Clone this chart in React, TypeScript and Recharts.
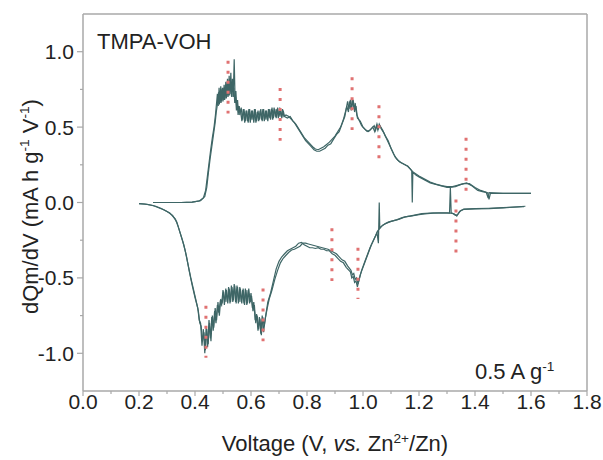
import { LineChart, Line, XAxis, YAxis, ReferenceLine } from "recharts";

// dQm/dV curves, [voltage, value] pairs
const charge1 = [
  [0.25, 0.0], [0.3, 0.0], [0.35, 0.0], [0.39, 0.003], [0.415, 0.01], [0.43, 0.03],
  [0.438, 0.08], [0.444, 0.17], [0.45, 0.26], [0.456, 0.35], [0.462, 0.43], [0.468, 0.5],
  [0.473, 0.58], [0.477, 0.66], [0.48, 0.72], [0.483, 0.64], [0.486, 0.76], [0.489, 0.66],
  [0.492, 0.77], [0.495, 0.67], [0.498, 0.76], [0.501, 0.68], [0.504, 0.78], [0.507, 0.69],
  [0.51, 0.8], [0.513, 0.7], [0.516, 0.82], [0.519, 0.71], [0.522, 0.84], [0.525, 0.72],
  [0.528, 0.86], [0.531, 0.7], [0.534, 0.82], [0.537, 0.74], [0.54, 0.95], [0.543, 0.7],
  [0.546, 0.74], [0.549, 0.63], [0.552, 0.68], [0.555, 0.6], [0.558, 0.64],
  [0.56, 0.58], [0.565, 0.63], [0.57, 0.55], [0.575, 0.62], [0.58, 0.54], [0.585, 0.61],
  [0.59, 0.53], [0.595, 0.62], [0.6, 0.55], [0.605, 0.61], [0.61, 0.53], [0.615, 0.62],
  [0.62, 0.54], [0.625, 0.61], [0.63, 0.55], [0.635, 0.62], [0.64, 0.54], [0.645, 0.62],
  [0.65, 0.55], [0.655, 0.61], [0.66, 0.54], [0.665, 0.62], [0.67, 0.55], [0.675, 0.63],
  [0.68, 0.56], [0.685, 0.62], [0.69, 0.56], [0.695, 0.63], [0.7, 0.57], [0.705, 0.62],
  [0.71, 0.56], [0.715, 0.61], [0.72, 0.57], [0.73, 0.56], [0.74, 0.57], [0.75, 0.54],
  [0.76, 0.52], [0.77, 0.49], [0.78, 0.46], [0.79, 0.43], [0.8, 0.41], [0.81, 0.39],
  [0.82, 0.37], [0.83, 0.355], [0.84, 0.35], [0.85, 0.36], [0.86, 0.37], [0.87, 0.385],
  [0.88, 0.4], [0.89, 0.42], [0.9, 0.44], [0.91, 0.47], [0.92, 0.5], [0.93, 0.55],
  [0.94, 0.62], [0.945, 0.67], [0.95, 0.62], [0.955, 0.68], [0.96, 0.63], [0.965, 0.68],
  [0.97, 0.6], [0.975, 0.64], [0.98, 0.56], [0.99, 0.54], [1.0, 0.5], [1.01, 0.48],
  [1.02, 0.47], [1.03, 0.49], [1.04, 0.51], [1.045, 0.48], [1.05, 0.52], [1.055, 0.49],
  [1.06, 0.51], [1.07, 0.48], [1.08, 0.44], [1.09, 0.41], [1.1, 0.36], [1.11, 0.32],
  [1.12, 0.29], [1.13, 0.27], [1.14, 0.26], [1.15, 0.25], [1.16, 0.24], [1.17, 0.22],
  [1.174, 0.21], [1.176, 0.0], [1.178, 0.2], [1.19, 0.18], [1.2, 0.17], [1.22, 0.15],
  [1.24, 0.13], [1.26, 0.12], [1.28, 0.11], [1.3, 0.1], [1.31, 0.1], [1.33, 0.105],
  [1.35, 0.12], [1.37, 0.13], [1.39, 0.11], [1.41, 0.08], [1.43, 0.07], [1.445, 0.065],
  [1.45, 0.02], [1.455, 0.06], [1.48, 0.06], [1.52, 0.06], [1.56, 0.06], [1.6, 0.06],
];

const charge2 = [
  [0.25, 0.0], [0.3, 0.0], [0.35, 0.0], [0.39, 0.002], [0.42, 0.012], [0.435, 0.04],
  [0.442, 0.1], [0.448, 0.2], [0.454, 0.29], [0.46, 0.37], [0.466, 0.45], [0.472, 0.53],
  [0.476, 0.6], [0.48, 0.65], [0.484, 0.73], [0.487, 0.65], [0.49, 0.74], [0.493, 0.66],
  [0.496, 0.75], [0.5, 0.67], [0.503, 0.76], [0.506, 0.68], [0.509, 0.78], [0.512, 0.69],
  [0.515, 0.79], [0.518, 0.7], [0.521, 0.8], [0.524, 0.71], [0.527, 0.82], [0.53, 0.73],
  [0.533, 0.78], [0.536, 0.7], [0.539, 0.76], [0.542, 0.66], [0.545, 0.7], [0.548, 0.61],
  [0.551, 0.66], [0.554, 0.58], [0.557, 0.63],
  [0.5625, 0.61], [0.5675, 0.54], [0.5725, 0.62], [0.5775, 0.53], [0.5825, 0.61], [0.5875, 0.54],
  [0.5925, 0.62], [0.5975, 0.53], [0.6025, 0.61], [0.6075, 0.55], [0.6125, 0.62], [0.6175, 0.53],
  [0.6225, 0.6], [0.6275, 0.54], [0.6325, 0.61], [0.6375, 0.55], [0.6425, 0.62], [0.6475, 0.54],
  [0.6525, 0.61], [0.6575, 0.55], [0.6625, 0.62], [0.6675, 0.56], [0.6725, 0.62], [0.6775, 0.55],
  [0.6825, 0.63], [0.6875, 0.57], [0.6925, 0.62], [0.6975, 0.56], [0.7025, 0.63], [0.7075, 0.57],
  [0.7125, 0.62], [0.7175, 0.57], [0.725, 0.58], [0.735, 0.57], [0.745, 0.55], [0.755, 0.53],
  [0.765, 0.5], [0.775, 0.47], [0.785, 0.44], [0.795, 0.41], [0.805, 0.39], [0.815, 0.37],
  [0.825, 0.35], [0.835, 0.34], [0.845, 0.34], [0.855, 0.35], [0.865, 0.36], [0.875, 0.38],
  [0.885, 0.39], [0.895, 0.42], [0.905, 0.45], [0.915, 0.47], [0.925, 0.52], [0.935, 0.57],
  [0.942, 0.64], [0.948, 0.6], [0.952, 0.67], [0.958, 0.61], [0.962, 0.69], [0.968, 0.62],
  [0.972, 0.66], [0.978, 0.58], [0.985, 0.55], [0.995, 0.51], [1.005, 0.49], [1.015, 0.47],
  [1.025, 0.48], [1.035, 0.5], [1.042, 0.47], [1.048, 0.51], [1.053, 0.48], [1.058, 0.52],
  [1.065, 0.49], [1.075, 0.46], [1.085, 0.42], [1.095, 0.38], [1.105, 0.34], [1.115, 0.3],
  [1.125, 0.28], [1.135, 0.265], [1.145, 0.255], [1.16, 0.24], [1.18, 0.2], [1.2, 0.175],
  [1.22, 0.155], [1.24, 0.135], [1.26, 0.122], [1.28, 0.112], [1.3, 0.105], [1.32, 0.105],
  [1.34, 0.115], [1.36, 0.125], [1.38, 0.125], [1.4, 0.1], [1.42, 0.08], [1.44, 0.068],
  [1.447, 0.03], [1.45, 0.065], [1.5, 0.06], [1.55, 0.06], [1.6, 0.06],
];

const discharge1 = [
  [1.575, -0.027], [1.55, -0.03], [1.5, -0.035], [1.45, -0.04], [1.4, -0.042], [1.36, -0.045],
  [1.345, -0.06], [1.335, -0.09], [1.325, -0.075], [1.315, -0.07], [1.312, 0.1], [1.309, -0.07],
  [1.28, -0.07], [1.25, -0.07], [1.22, -0.075], [1.2, -0.08], [1.17, -0.09], [1.15, -0.095],
  [1.13, -0.11], [1.11, -0.12], [1.09, -0.13], [1.07, -0.15], [1.06, -0.17], [1.058, 0.0],
  [1.055, -0.27], [1.05, -0.2], [1.04, -0.24], [1.03, -0.28], [1.02, -0.33], [1.01, -0.38],
  [1.0, -0.43], [0.99, -0.48], [0.985, -0.52], [0.98, -0.56], [0.975, -0.52], [0.97, -0.53],
  [0.965, -0.49], [0.96, -0.5], [0.955, -0.46], [0.95, -0.45], [0.94, -0.43], [0.93, -0.4],
  [0.92, -0.39], [0.91, -0.37], [0.9, -0.35], [0.89, -0.34], [0.88, -0.32], [0.87, -0.32],
  [0.86, -0.31], [0.85, -0.31], [0.84, -0.3], [0.83, -0.305], [0.82, -0.3], [0.81, -0.3],
  [0.8, -0.29], [0.79, -0.28], [0.78, -0.265], [0.77, -0.27], [0.76, -0.29], [0.75, -0.3],
  [0.74, -0.31], [0.73, -0.32], [0.72, -0.34], [0.71, -0.36], [0.7, -0.39], [0.69, -0.44],
  [0.68, -0.52], [0.67, -0.6], [0.66, -0.66], [0.655, -0.72], [0.65, -0.78], [0.645, -0.86],
  [0.64, -0.75], [0.635, -0.87], [0.63, -0.76], [0.625, -0.85], [0.62, -0.74], [0.615, -0.78],
  [0.61, -0.66], [0.605, -0.7], [0.6, -0.6], [0.595, -0.67], [0.59, -0.58], [0.585, -0.68],
  [0.58, -0.57], [0.575, -0.67], [0.57, -0.58], [0.565, -0.66], [0.56, -0.56], [0.555, -0.67],
  [0.55, -0.55], [0.545, -0.66], [0.54, -0.54], [0.535, -0.66], [0.53, -0.55], [0.525, -0.67],
  [0.52, -0.56], [0.515, -0.66], [0.51, -0.57], [0.505, -0.68], [0.5, -0.58], [0.495, -0.68],
  [0.49, -0.66], [0.485, -0.73], [0.48, -0.68], [0.475, -0.8], [0.47, -0.72], [0.465, -0.85],
  [0.46, -0.76], [0.455, -0.9], [0.45, -0.78], [0.445, -0.96], [0.44, -0.82], [0.435, -1.0],
  [0.43, -0.84], [0.425, -0.95], [0.42, -0.8], [0.415, -0.78], [0.41, -0.7], [0.4, -0.63],
  [0.39, -0.55], [0.38, -0.46], [0.37, -0.36], [0.36, -0.28], [0.35, -0.22], [0.34, -0.16],
  [0.33, -0.11], [0.31, -0.07], [0.29, -0.05], [0.27, -0.035], [0.25, -0.02], [0.22, -0.01],
  [0.2, -0.007],
];

const discharge2 = [
  [1.58, -0.025], [1.55, -0.029], [1.5, -0.034], [1.45, -0.038], [1.4, -0.041], [1.36, -0.044],
  [1.348, -0.055], [1.338, -0.08], [1.33, -0.085], [1.32, -0.072], [1.3, -0.068], [1.27, -0.068],
  [1.24, -0.07], [1.21, -0.074], [1.18, -0.085], [1.16, -0.092], [1.14, -0.1], [1.12, -0.115],
  [1.1, -0.125], [1.08, -0.14], [1.065, -0.16], [1.052, -0.19], [1.045, -0.22], [1.035, -0.26],
  [1.025, -0.3], [1.015, -0.35], [1.005, -0.4], [0.995, -0.45], [0.988, -0.5], [0.982, -0.54],
  [0.977, -0.5], [0.972, -0.51], [0.967, -0.47], [0.962, -0.48], [0.957, -0.45], [0.945, -0.42],
  [0.935, -0.39], [0.925, -0.38], [0.915, -0.36], [0.905, -0.34], [0.895, -0.33], [0.885, -0.32],
  [0.875, -0.31], [0.865, -0.305], [0.855, -0.3], [0.845, -0.295], [0.835, -0.29], [0.825, -0.285],
  [0.815, -0.28], [0.805, -0.275], [0.795, -0.27], [0.785, -0.27], [0.775, -0.29], [0.765, -0.3],
  [0.755, -0.31], [0.745, -0.315], [0.735, -0.33], [0.725, -0.35], [0.715, -0.37], [0.705, -0.4],
  [0.695, -0.45], [0.685, -0.51], [0.675, -0.58], [0.665, -0.64], [0.658, -0.7], [0.652, -0.76],
  [0.647, -0.82], [0.642, -0.76], [0.637, -0.88], [0.632, -0.77], [0.627, -0.84], [0.622, -0.75],
  [0.617, -0.8], [0.612, -0.68], [0.607, -0.72], [0.602, -0.62], [0.597, -0.66], [0.592, -0.57],
  [0.587, -0.67], [0.582, -0.58], [0.577, -0.68], [0.572, -0.57], [0.567, -0.67], [0.562, -0.57],
  [0.557, -0.66], [0.552, -0.56], [0.547, -0.67], [0.542, -0.55], [0.537, -0.65], [0.532, -0.56],
  [0.527, -0.66], [0.522, -0.57], [0.517, -0.67], [0.512, -0.58], [0.507, -0.66], [0.502, -0.59],
  [0.497, -0.67], [0.492, -0.64], [0.487, -0.75], [0.482, -0.66], [0.477, -0.78], [0.472, -0.7],
  [0.467, -0.83], [0.462, -0.75], [0.457, -0.92], [0.452, -0.8], [0.447, -0.94], [0.442, -0.84],
  [0.437, -0.98], [0.432, -0.86], [0.427, -0.92], [0.422, -0.82], [0.417, -0.8], [0.412, -0.72],
  [0.405, -0.66], [0.395, -0.58], [0.385, -0.5], [0.375, -0.41], [0.365, -0.32], [0.355, -0.25],
  [0.345, -0.19], [0.335, -0.13], [0.32, -0.085], [0.3, -0.06], [0.28, -0.04], [0.26, -0.025],
  [0.23, -0.012], [0.2, -0.008],
];

// red dotted markers: [voltage, top, bottom]
const peakMarks = [
  [0.518, 0.94, 0.59], [0.704, 0.76, 0.41], [0.961, 0.83, 0.48], [1.057, 0.645, 0.29],
  [1.368, 0.43, 0.07], [1.332, 0.02, -0.35], [0.889, -0.17, -0.52], [0.982, -0.3, -0.64],
  [0.643, -0.57, -0.92], [0.439, -0.685, -1.03],
];

const xTicks = [0, 0.1, 0.2, 0.3, 0.4, 0.5, 0.6, 0.7, 0.8, 0.9, 1.0, 1.1, 1.2, 1.3, 1.4, 1.5, 1.6, 1.7, 1.8];
const yTicks = [-1.0, -0.75, -0.5, -0.25, 0, 0.25, 0.5, 0.75, 1.0];

const lineColor = "#3e6666";
const axisColor = "#a8a8a8";
const markColor = "#e07272";
const font = "'Liberation Sans', Arial, sans-serif";

const toPts = (arr: number[][]) => arr.map(([v, y]) => ({ v, y }));

const XTick = (props: any) => {
  const { x, y, payload } = props;
  const v = payload.value;
  const major = Math.round(v * 10) % 2 === 0;
  return (
    <g>
      <line x1={x} y1={y} x2={x} y2={y + (major ? 5 : 3)} stroke={axisColor} strokeWidth={1.2} />
      {major && (
        <text x={x} y={y + 18} textAnchor="middle" fontSize={21} fontFamily={font} fill="#222">
          {v.toFixed(1)}
        </text>
      )}
    </g>
  );
};

const YTick = (props: any) => {
  const { x, y, payload } = props;
  const v = payload.value;
  const major = Math.round(v * 4) % 2 === 0;
  return (
    <g>
      <line x1={x} y1={y} x2={x - (major ? 6 : 3)} y2={y} stroke={axisColor} strokeWidth={1.2} />
      {major && (
        <text x={x - 9} y={y + 7.5} textAnchor="end" fontSize={21} fontFamily={font} fill="#222">
          {v.toFixed(1)}
        </text>
      )}
    </g>
  );
};

const sup = { fontSize: "0.62em", verticalAlign: "0.6em" };
const label = { position: "absolute" as const, fontSize: 22, lineHeight: "22px", whiteSpace: "nowrap" as const };

export default function App() {
  return (
    <div style={{ position: "absolute", left: 0, top: 0, width: 603, height: 460, background: "#fff", fontFamily: font, color: "#222" }}>
      <LineChart width={603} height={460} margin={{ top: 14, right: 16, bottom: 39, left: 23 }}>
        <XAxis
          type="number"
          dataKey="v"
          domain={[0, 1.8]}
          ticks={xTicks}
          interval={0}
          tickSize={0}
          tickMargin={0}
          tickLine={false}
          tick={XTick}
          height={30}
          axisLine={{ stroke: axisColor, strokeWidth: 1.5 }}
          allowDataOverflow
        />
        <YAxis
          type="number"
          domain={[-1.25, 1.25]}
          ticks={yTicks}
          interval={0}
          tickSize={0}
          tickMargin={0}
          tickLine={false}
          tick={YTick}
          width={60}
          axisLine={{ stroke: axisColor, strokeWidth: 1.5 }}
          allowDataOverflow
        />
        <ReferenceLine y={1.25} stroke={axisColor} strokeWidth={1.5} ifOverflow="visible" />
        <ReferenceLine x={1.8} stroke={axisColor} strokeWidth={1.5} ifOverflow="visible" />
        {[charge1, charge2, discharge1, discharge2].map((s, i) => (
          <Line
            key={i}
            data={toPts(s)}
            dataKey="y"
            type="linear"
            stroke={lineColor}
            strokeWidth={1.2}
            dot={false}
            activeDot={false}
            isAnimationActive={false}
          />
        ))}
        {peakMarks.map(([v, a, b], i) => (
          <ReferenceLine
            key={"m" + i}
            segment={[{ x: v, y: a }, { x: v, y: b }]}
            stroke={markColor}
            strokeWidth={3}
            strokeDasharray="3 7"
            ifOverflow="visible"
          />
        ))}
      </LineChart>
      <div style={{ ...label, left: 97, top: 31 }}>TMPA-VOH</div>
      <div style={{ ...label, left: 475, top: 356 }}>
        0.5 A g<span style={sup}>-1</span>
      </div>
      <div style={{ ...label, left: 135, top: 428, width: 400, textAlign: "center" }}>
        Voltage (V, <i>vs.</i> Zn<span style={sup}>2+</span>/Zn)
      </div>
      <div
        style={{
          ...label,
          left: 28 - 200,
          top: 204 - 11,
          width: 400,
          textAlign: "center",
          transform: "rotate(-90deg)",
        }}
      >
        dQm/dV (mA h g<span style={sup}>-1</span> V<span style={sup}>-1</span>)
      </div>
    </div>
  );
}
